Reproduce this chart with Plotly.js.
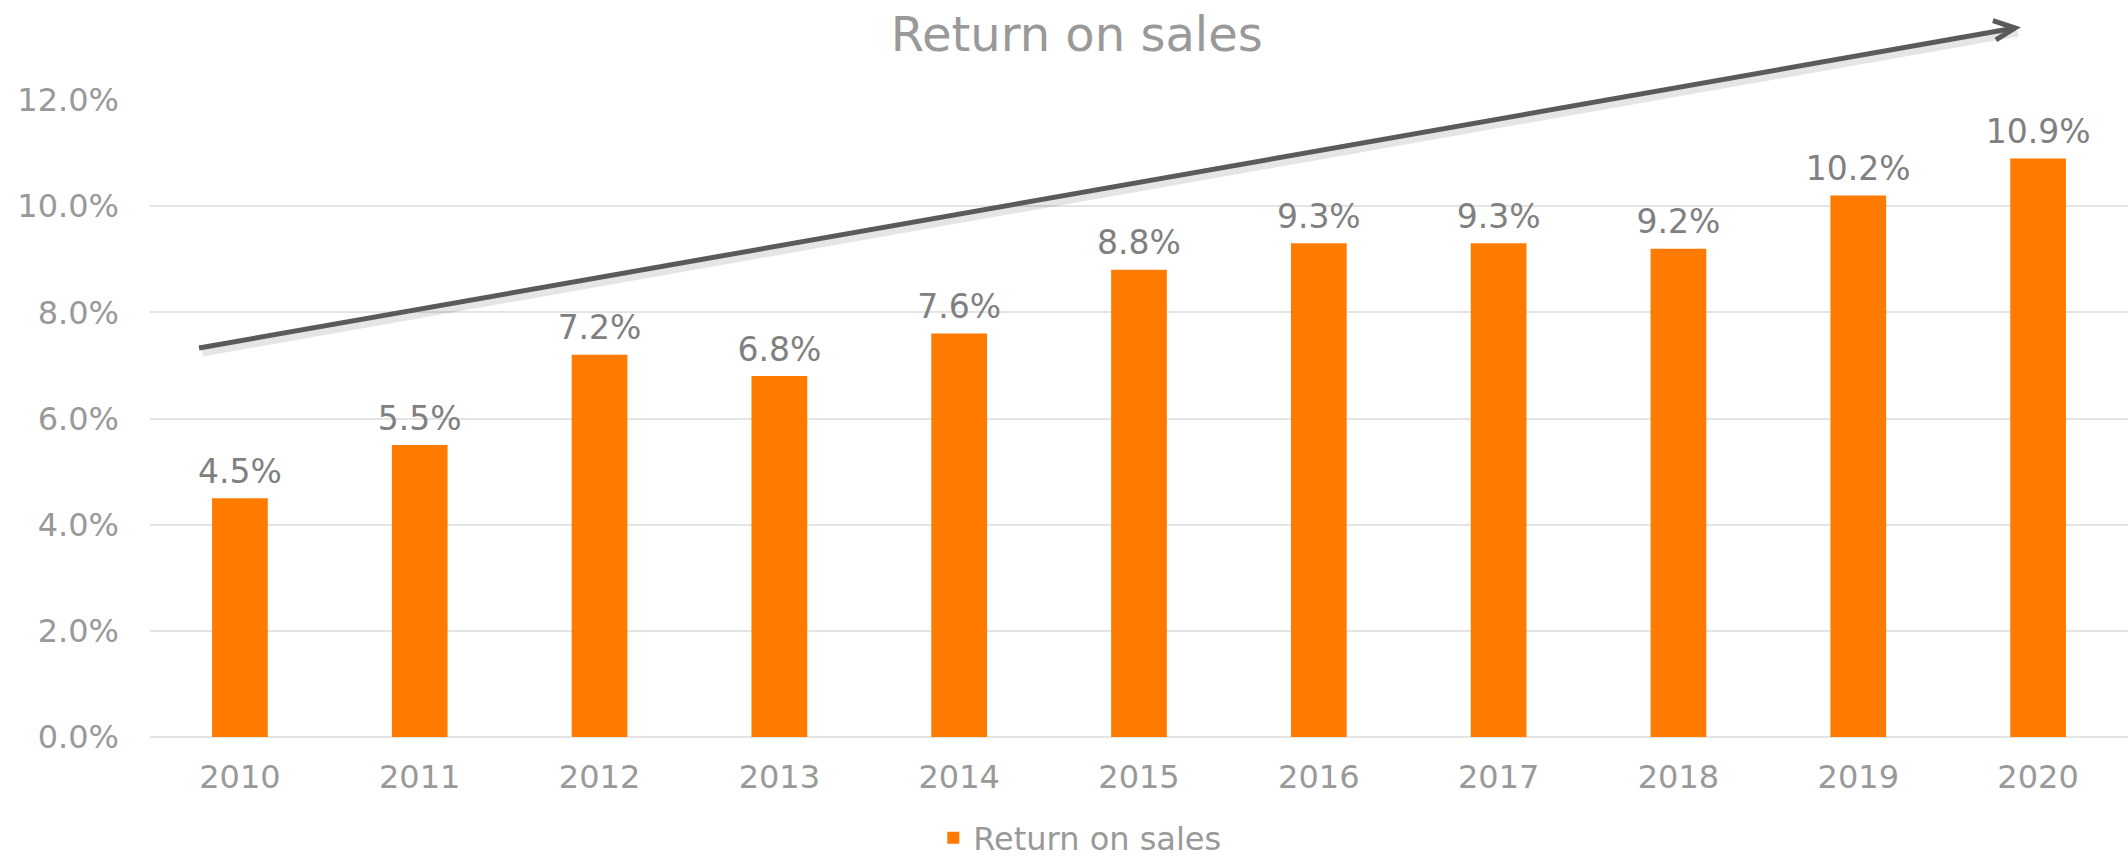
<!DOCTYPE html>
<html>
<head>
<meta charset="utf-8">
<script src="https://cdn.plot.ly/plotly-3.0.1.min.js"></script>
<style>html,body{margin:0;padding:0;background:#fff;}#chart{width:2128px;height:856px;}</style>
</head>
<body>
<div id="chart"></div>
<script>
const years = ["2010","2011","2012","2013","2014","2015","2016","2017","2018","2019","2020"];
const returnOnSales = [0.045,0.055,0.072,0.068,0.076,0.088,0.093,0.093,0.092,0.102,0.109];
const seriesName = "Return on sales";
const chartTitle = "Return on sales";

const FONT = "DejaVu Sans, Verdana, sans-serif";

const bars = {
  type: "bar",
  x: years,
  y: returnOnSales,
  name: seriesName,
  marker: {color: "#ff7b00"},
  hoverinfo: "skip"
};

// data labels, positioned by the axes above each bar
const labelTrace = {
  type: "scatter",
  mode: "text+markers",
  x: years,
  y: returnOnSales,
  texttemplate: "%{y:.1%}",
  textposition: "top center",
  textfont: {family: FONT, size: 33, color: "#808080"},
  marker: {size: 10, opacity: 0, color: "#ffffff"},
  cliponaxis: false,
  showlegend: false,
  hoverinfo: "skip"
};

// trend arrow (decoration) in paper coordinates
const x0 = 0.0248, y0 = 0.6107, x1 = 0.9429, y1 = 1.113;
const layout = {
  width: 2128, height: 856,
  margin: {l: 150, r: 0, t: 100, b: 119, autoexpand: false},
  paper_bgcolor: "#fff", plot_bgcolor: "#fff",
  font: {family: FONT, size: 32, color: "#999999"},
  title: {text: chartTitle, font: {family: FONT, size: 48, color: "#999999"},
          x: 0.506, xanchor: "center", yref: "container", y: 0.96, yanchor: "middle", automargin: false},
  bargap: 0.69,
  showlegend: true,
  legend: {orientation: "h", x: 0.396, xanchor: "left", yref: "container", y: 0.021, yanchor: "middle",
           font: {family: FONT, size: 32, color: "#999999"}},
  xaxis: {type: "category", range: [-0.5, 10.5], showgrid: false, showline: false, zeroline: false, automargin: false,
          ticks: "", tickfont: {family: FONT, size: 32, color: "#999999"}, ticklabelstandoff: 18, fixedrange: true},
  yaxis: {range: [0, 0.12], dtick: 0.02, tickformat: ".1%", showgrid: true, gridcolor: "#e4e4e4", gridwidth: 2,
          zeroline: true, zerolinecolor: "#e4e4e4", zerolinewidth: 2, showline: false, ticks: "", automargin: false,
          tickfont: {family: FONT, size: 32, color: "#999999"}, ticklabelstandoff: 30, fixedrange: true},
  shapes: [
    {type: "line", xref: "paper", yref: "paper", x0: x0 + 0.0015, y0: y0 - 0.008, x1: x1 + 0.0015, y1: y1 - 0.008,
     line: {color: "rgba(0,0,0,0.10)", width: 7}, layer: "above"},
    {type: "line", xref: "paper", yref: "paper", x0: x0, y0: y0, x1: x1, y1: y1,
     line: {color: "#5a5a5a", width: 5}, layer: "above"},
    {type: "path", xref: "paper", yref: "paper",
     path: "M 0.9317,1.1245 L " + x1 + "," + y1 + " L 0.9332,1.0942",
     line: {color: "#5a5a5a", width: 5}, layer: "above"}
  ]
};

Plotly.newPlot("chart", [bars, labelTrace], layout, {displayModeBar: false, staticPlot: true});
</script>
</body>
</html>
